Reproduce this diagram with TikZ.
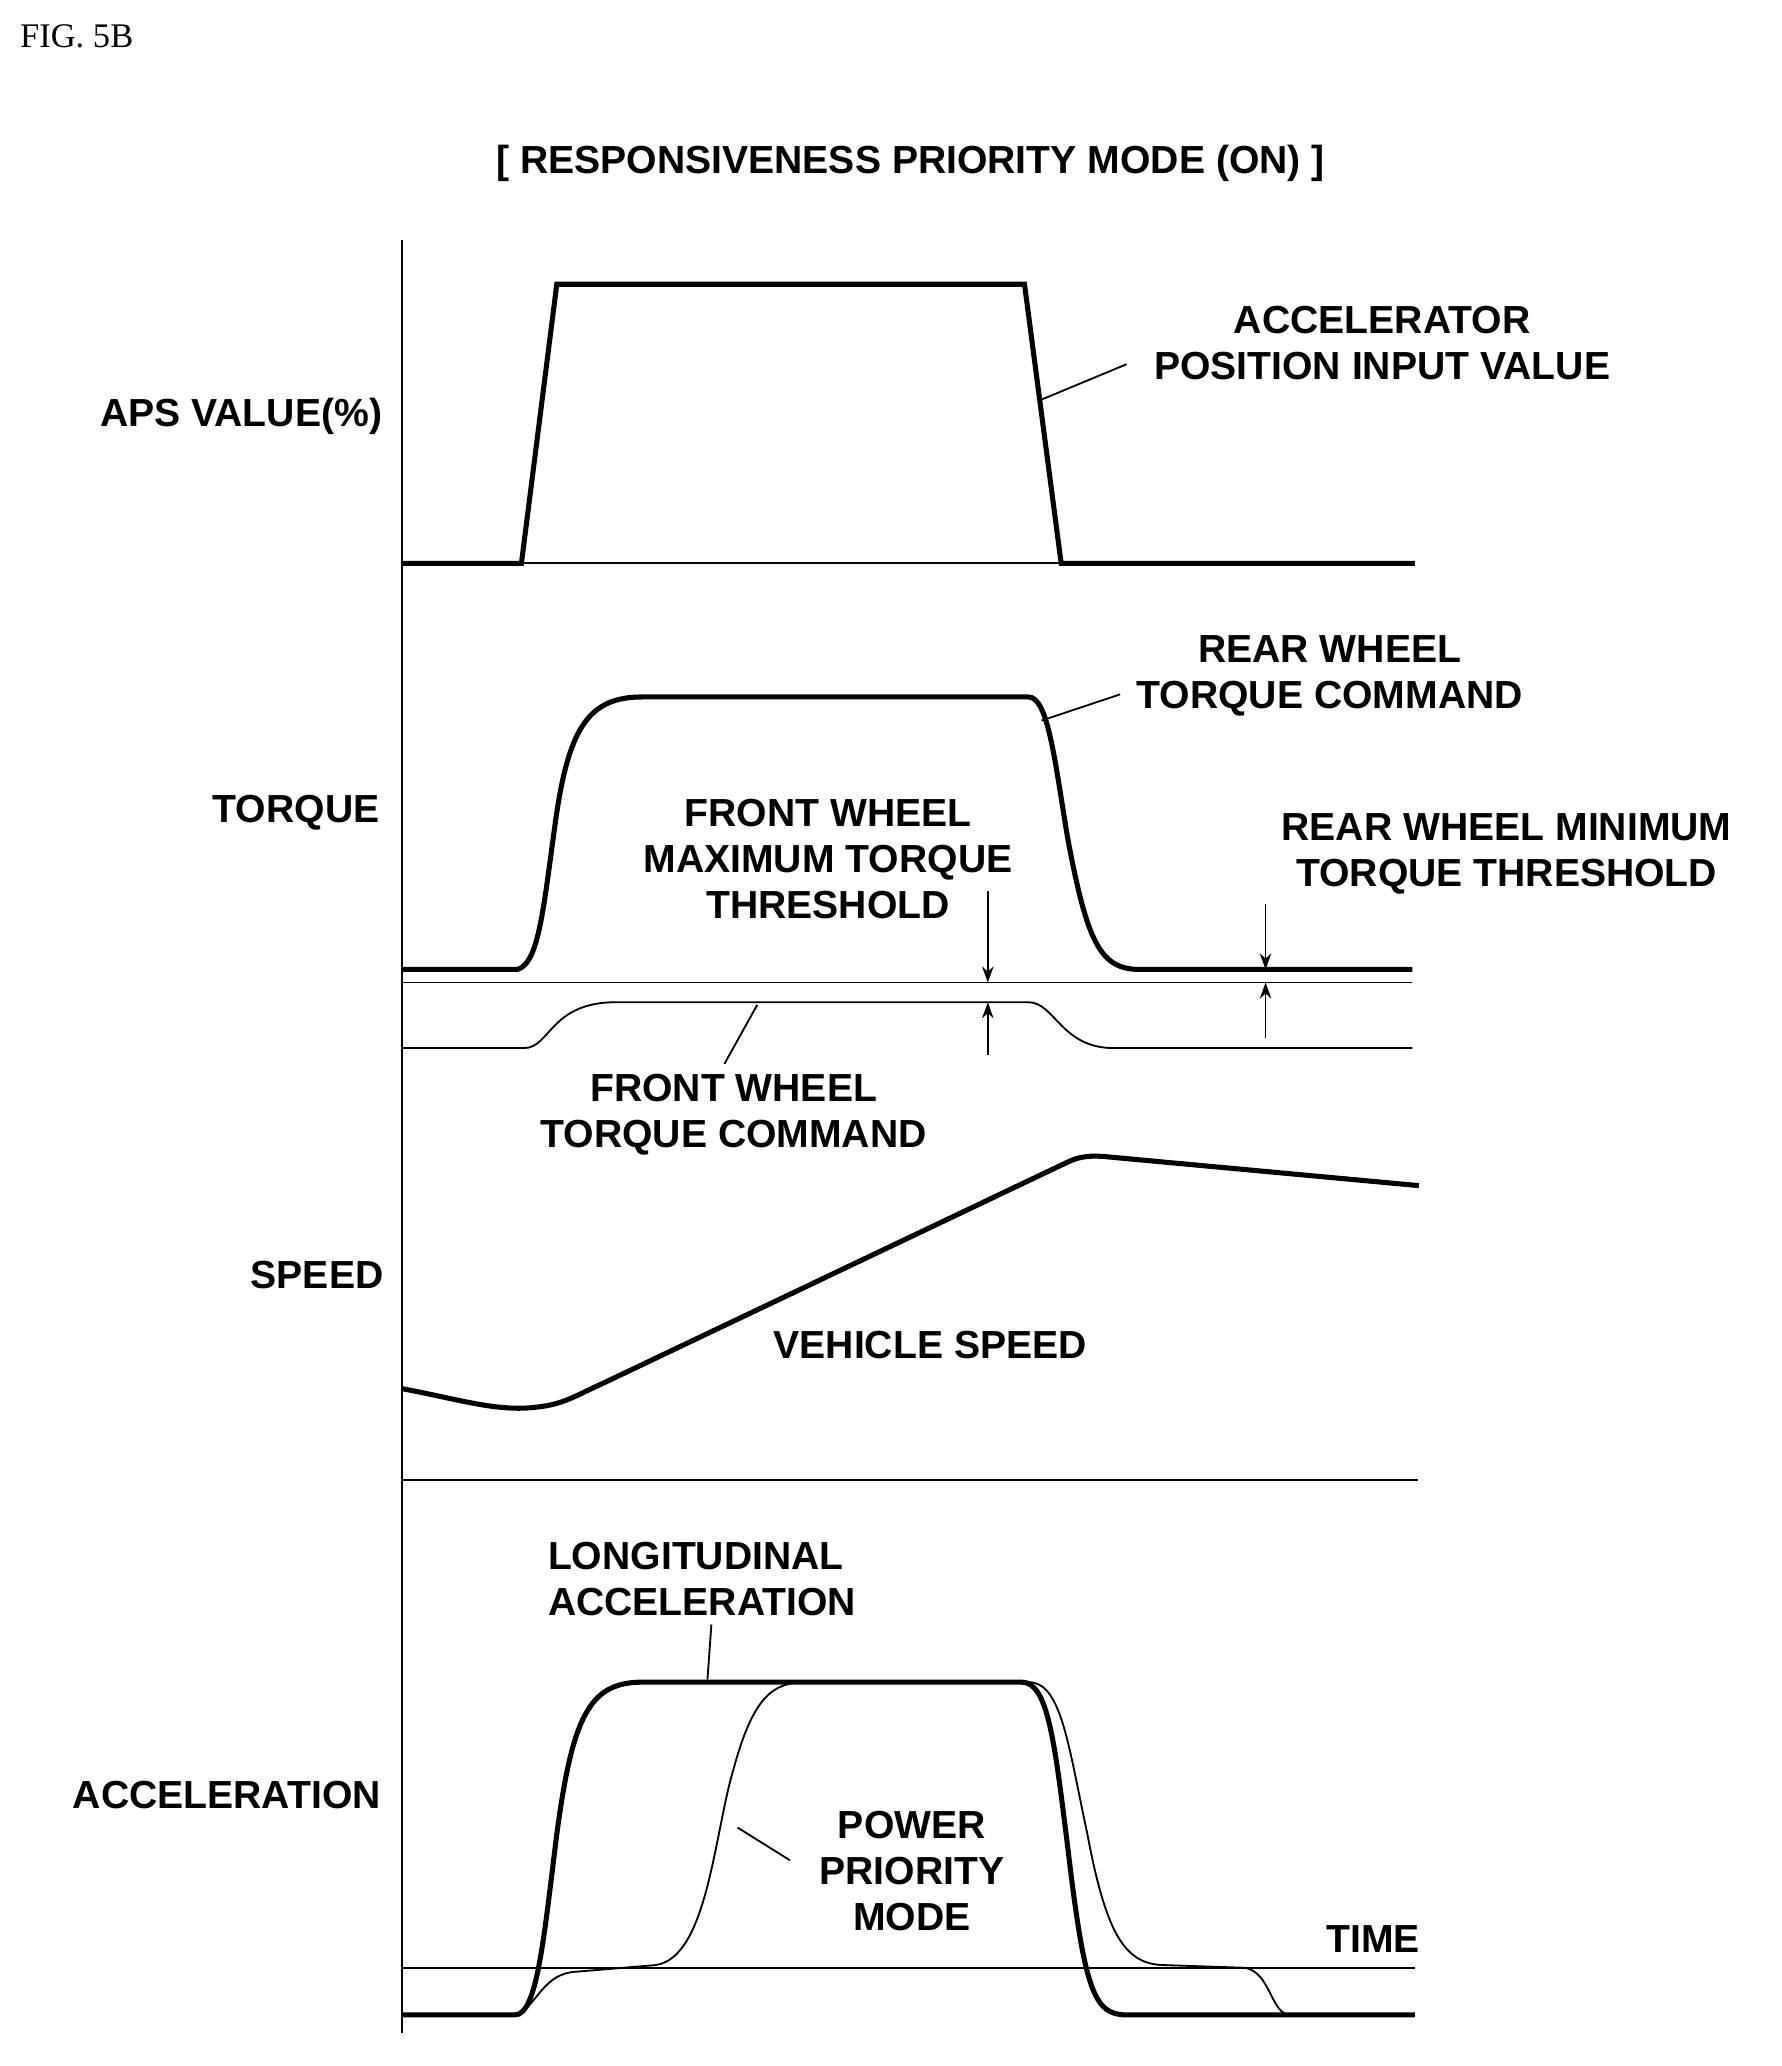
\documentclass[tikz,border=0pt]{standalone}
\usepackage{fontspec}
\setmainfont{Liberation Sans}
\newfontfamily\serifx{Liberation Serif}
\usetikzlibrary{arrows.meta}
\begin{document}
\begin{tikzpicture}[x=0.02cm,y=-0.02cm,
 lbl/.style={font=\fontsize{17}{20}\selectfont\bfseries,align=center,inner sep=0},
 thick1/.style={line width=2.2pt},
 thin1/.style={line width=0.8pt},
 arr/.style={thin1,-{Stealth[length=7pt,width=5pt]}}]
\useasboundingbox (0,0) rectangle (1360,1577);
\node[font=\fontsize{15}{18}\selectfont\serifx,anchor=west,inner sep=0] (fig) at (15,28) {FIG. 5B};
\node[lbl] (title) at (695,125) {[ RESPONSIVENESS PRIORITY MODE (ON) ]};
% axes
\draw[thin1] (307,183) -- (307,1552);
\draw[thin1] (307,430) -- (1080,430);
\draw[thin1] (307,750) -- (1078,750);
\draw[thin1] (307,1130) -- (1082,1130);
\draw[thin1] (307,1502) -- (1080,1502);
% APS
\draw[thick1] (307,430) -- (398,430) -- (425,217) -- (782,217) -- (810,430) -- (1080,430);
\node[lbl] (acc) at (1055,262) {ACCELERATOR\\POSITION INPUT VALUE};
\draw[thin1] (795,305) -- (860,278);
\node[lbl,anchor=east] (aps) at (292,318) {APS VALUE(\%)};
% torque
\draw[thick1] (307,740) -- (395,740) .. controls (412,735) and (415,690) .. (425,620)
 .. controls (435,555) and (450,532) .. (490,532) -- (785,532)
 .. controls (800,532) and (805,580) .. (815,640) .. controls (830,720) and (840,740) .. (870,740) -- (1078,740);
\draw[thin1] (307,800) -- (400,800) .. controls (420,800) and (420,765) .. (470,765) -- (785,765)
 .. controls (805,765) and (810,800) .. (850,800) -- (1078,800);
\draw[arr] (754,680) -- (754,750);
\draw[arr] (754,805) -- (754,765);
\draw[arr] (966,690) -- (966,740);
\draw[arr] (966,792) -- (966,750);
\node[lbl] (rwt) at (1015,516) {REAR WHEEL\\TORQUE COMMAND};
\draw[thin1] (795,550) -- (855,530);
\node[lbl] (fwm) at (632,656) {FRONT WHEEL\\MAXIMUM TORQUE\\THRESHOLD};
\node[lbl] (rwm) at (1150,652) {REAR WHEEL MINIMUM\\TORQUE THRESHOLD};
\node[lbl] (fwt) at (560,851) {FRONT WHEEL\\TORQUE COMMAND};
\draw[thin1] (553,812) -- (578,767);
\node[lbl,anchor=east] (tq) at (290,620) {TORQUE};
% speed
\draw[thick1] (307,1060) .. controls (350,1068) and (380,1078) .. (410,1074)
 .. controls (430,1072) and (440,1065) .. (460,1056) -- (815,887)
 .. controls (825,882) and (835,882) .. (845,883) -- (1083,905);
\node[lbl] (vs) at (710,1027) {VEHICLE SPEED};
\node[lbl,anchor=east] (sp) at (293,973) {SPEED};
% acceleration
\draw[thick1] (307,1538) -- (393,1538) .. controls (410,1538) and (415,1480) .. (425,1400)
 .. controls (437,1310) and (450,1284) .. (490,1284) -- (780,1284)
 .. controls (800,1284) and (805,1330) .. (815,1410) .. controls (828,1520) and (835,1538) .. (860,1538) -- (1080,1538);
\draw[thin1] (307,1538) -- (395,1538) .. controls (410,1530) and (415,1506) .. (440,1505)
 -- (500,1500) .. controls (540,1495) and (545,1400) .. (560,1350) .. controls (575,1295) and (590,1284) .. (615,1284) -- (785,1284)
 .. controls (810,1284) and (815,1330) .. (830,1400) .. controls (845,1480) and (860,1500) .. (890,1500)
 -- (950,1502) .. controls (970,1505) and (970,1538) .. (985,1538) -- (1080,1538);
\node[lbl,anchor=west,align=left] (la) at (418,1205) {LONGITUDINAL\\ACCELERATION};
\draw[thin1] (540,1282) -- (543,1240);
\node[lbl] (ppm) at (696,1428) {POWER\\PRIORITY\\MODE};
\draw[thin1] (563,1395) -- (603,1420);
\node[lbl] (time) at (1048,1480) {TIME};
\node[lbl,anchor=east] (ac) at (291,1370) {ACCELERATION};
\end{tikzpicture}
\end{document}
